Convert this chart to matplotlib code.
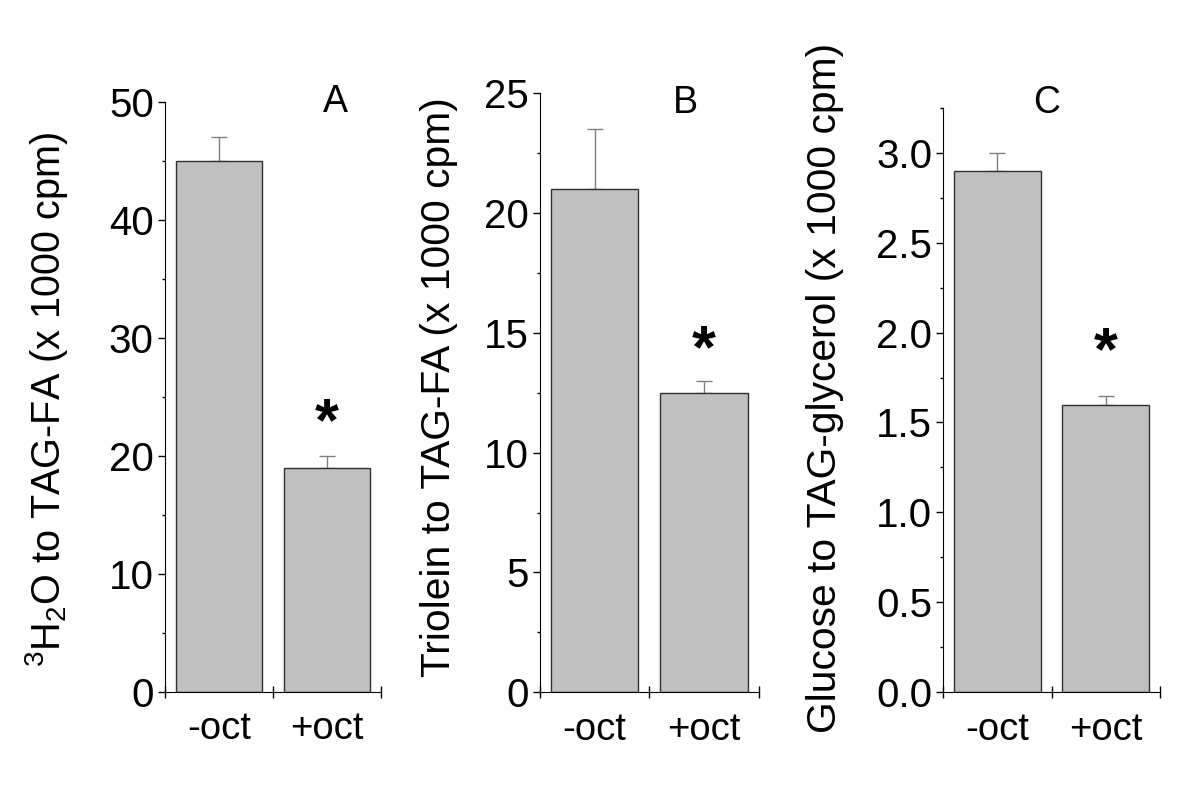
import matplotlib
matplotlib.use("Agg")
import matplotlib.pyplot as plt
from matplotlib.ticker import MultipleLocator, FormatStrFormatter

plt.rcParams['font.family'] = ['Liberation Sans', 'DejaVu Sans']
plt.rcParams['mathtext.fontset'] = 'custom'
plt.rcParams['mathtext.rm'] = 'Liberation Sans'
plt.rcParams['mathtext.it'] = 'Liberation Sans:italic'

groups = ['-oct', '+oct']

# panel A: 3H2O to TAG-FA
a_vals = [45, 19]
a_err = [2.0, 1.0]
# panel B: triolein to TAG-FA
b_vals = [21, 12.5]
b_err = [2.5, 0.5]
# panel C: glucose to TAG-glycerol
c_vals = [2.9, 1.6]
c_err = [0.1, 0.05]

panels = [
    dict(vals=a_vals, err=a_err, ylim=50, major=10, minor=5, fmt='%d',
         ylabel=r'$^{3}$H$_{2}$O to TAG-FA (x 1000 cpm)', letter='A',
         star_y=22.6, pos=[0.1375, 0.1252, 0.18, 0.7462], lsize=28.5,
         letter_xy=(0.787, 1.0), label_xy=(-0.44, 0.495)),
    dict(vals=b_vals, err=b_err, ylim=25, major=5, minor=2.5, fmt='%d',
         ylabel='Triolein to TAG-FA (x 1000 cpm)', letter='B',
         star_y=14.2, pos=[0.45, 0.1248, 0.1822, 0.7572], lsize=29.3,
         letter_xy=(0.663, 0.984), label_xy=(-0.375, 0.51)),
    dict(vals=c_vals, err=c_err, ylim=3.25, major=0.5, minor=0.25, fmt='%.1f',
         ylabel='Glucose to TAG-glycerol (x 1000 cpm)', letter='C',
         star_y=1.885, pos=[0.786, 0.1248, 0.1806, 0.739], lsize=29.3,
         letter_xy=(0.478, 1.008), label_xy=(-0.46, 0.52)),
]

fig = plt.figure(figsize=(12, 7.91), dpi=100)

for p in panels:
    ax = fig.add_axes(p['pos'])
    x = [0.5, 1.5]
    ax.bar(x, p['vals'], width=0.8, color='#c0c0c0', edgecolor='#303030',
           linewidth=1.0, zorder=2)
    ax.errorbar(x, p['vals'], yerr=[[0, 0], p['err']], fmt='none',
                ecolor='#808080', elinewidth=1.0, capsize=6, capthick=1.0,
                zorder=1)
    ax.set_xlim(0, 2)
    ax.set_ylim(0, p['ylim'])
    ax.spines['top'].set_visible(False)
    ax.spines['right'].set_visible(False)

    ax.yaxis.set_major_locator(MultipleLocator(p['major']))
    ax.yaxis.set_minor_locator(MultipleLocator(p['minor']))
    ax.yaxis.set_major_formatter(FormatStrFormatter(p['fmt']))
    ax.tick_params(axis='y', which='major', direction='out', length=5,
                   width=1, labelsize=29, pad=3)
    ax.tick_params(axis='y', which='minor', direction='out', length=2.5,
                   width=1)

    ax.set_xticks([0, 1, 2])
    ax.set_xticklabels(['', '', ''])
    ax.set_xticks(x, minor=True)
    ax.set_xticklabels(groups, minor=True)
    ax.tick_params(axis='x', which='major', direction='inout', length=9,
                   width=1)
    ax.tick_params(axis='x', which='minor', length=0, labelsize=27.5, pad=14)

    ax.set_ylabel(p['ylabel'], fontsize=p['lsize'])
    ax.yaxis.set_label_coords(*p['label_xy'])

    ax.text(p['letter_xy'][0], p['letter_xy'][1], p['letter'],
            transform=ax.transAxes, ha='center', va='center', fontsize=27)
    ax.text(1.5, p['star_y'], '*', ha='center', va='center', fontsize=44,
            fontweight='bold')

fig.savefig('out.png', dpi=100)
